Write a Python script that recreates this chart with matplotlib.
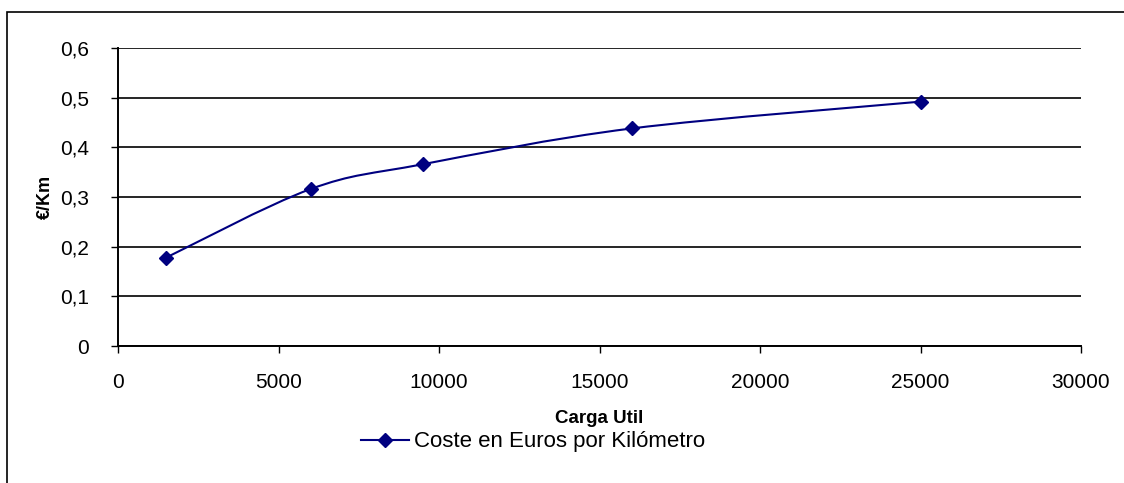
import matplotlib
matplotlib.use("Agg")
import matplotlib.pyplot as plt
from matplotlib.path import Path
from matplotlib.patches import PathPatch, Rectangle
from matplotlib.ticker import FuncFormatter

plt.rcParams['font.family'] = ['Liberation Sans', 'DejaVu Sans']

# data
carga = [1500, 6000, 9500, 16000, 25000]
coste = [0.178, 0.316, 0.366, 0.438, 0.492]
serie = 'Coste en Euros por Kilómetro'
x_ticks = [0, 5000, 10000, 15000, 20000, 25000, 30000]
y_ticks = [0, 0.1, 0.2, 0.3, 0.4, 0.5, 0.6]

LINE = '#000080'


def smooth_path(xs, ys):
    # Excel-like smoothed line: cubic Bezier segments through every point
    pts = list(zip(xs, ys))
    verts = [pts[0]]
    codes = [Path.MOVETO]
    n = len(pts)
    for i in range(n - 1):
        p0 = pts[i - 1] if i > 0 else pts[i]
        p1 = pts[i]
        p2 = pts[i + 1]
        p3 = pts[i + 2] if i + 2 < n else pts[i + 1]
        c1 = (p1[0] + (p2[0] - p0[0]) / 6, p1[1] + (p2[1] - p0[1]) / 6)
        c2 = (p2[0] - (p3[0] - p1[0]) / 6, p2[1] - (p3[1] - p1[1]) / 6)
        verts += [c1, c2, p2]
        codes += [Path.CURVE4] * 3
    return Path(verts, codes)


fig = plt.figure(figsize=(11.24, 4.83), dpi=100)
ax = fig.add_axes([118 / 1124, 1 - 346 / 483, (1081 - 118) / 1124, (346 - 48) / 483])

ax.add_patch(PathPatch(smooth_path(carga, coste), facecolor='none',
                       edgecolor=LINE, linewidth=1.5, zorder=3))
ax.plot(carga, coste, linestyle='none', marker='D', markersize=7,
        color=LINE, zorder=4)

ax.set_xlim(0, 30000)
ax.set_ylim(0, 0.6)
ax.set_xticks(x_ticks)
ax.set_yticks(y_ticks)
ax.yaxis.set_major_formatter(FuncFormatter(
    lambda v, p: '0' if v == 0 else ('%.1f' % v).replace('.', ',')))
ax.tick_params(axis='both', direction='out', length=5, width=1,
               labelsize=15, colors='black')
ax.tick_params(axis='y', pad=16)
ax.tick_params(axis='x', pad=14.5)

ax.grid(axis='y', color='black', linewidth=1.2)
ax.set_axisbelow(True)
for s in ['top', 'right']:
    ax.spines[s].set_visible(False)
for s in ['left', 'bottom']:
    ax.spines[s].set_linewidth(1.4)
    ax.spines[s].set_zorder(2)

ax.set_xlabel('Carga Util', fontsize=13.5, fontweight='bold', labelpad=13)
ax.set_ylabel('€/Km', fontsize=13, fontweight='bold', labelpad=4)

leg = fig.legend([ax.lines[0]], [serie], loc='center',
                 bbox_to_anchor=(533 / 1124, 1 - 442 / 483), frameon=False,
                 fontsize=16, handlelength=2.15, handletextpad=0.2)
leg.legend_handles[0].set_linestyle('-')
leg.legend_handles[0].set_linewidth(1.5)

# outer chart frame (right and bottom edges fall outside the image)
fig.add_artist(Rectangle((7 / 1124, -0.05), 1.2, 1 - 12.5 / 483 + 0.05,
                         transform=fig.transFigure, fill=False,
                         edgecolor='black', linewidth=1.2, clip_on=False))

fig.savefig('out.png', dpi=100)
